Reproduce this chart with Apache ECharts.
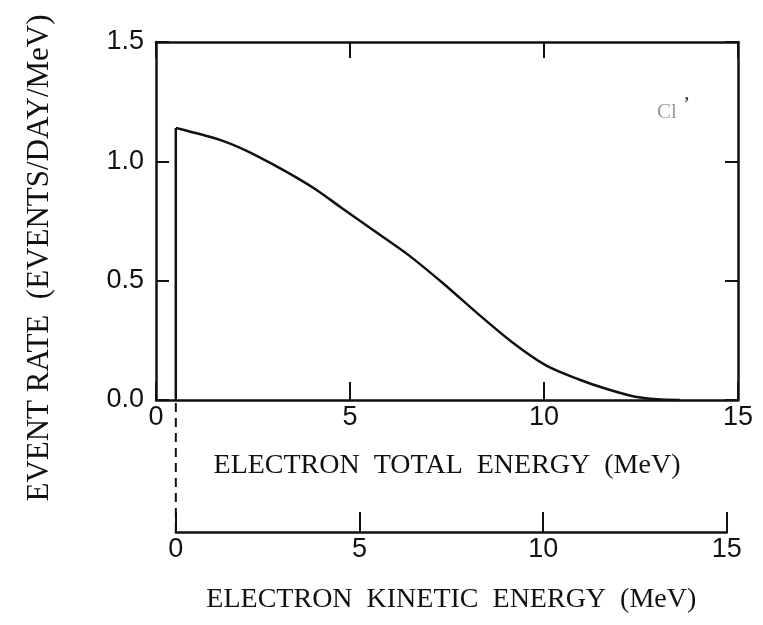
<!DOCTYPE html>
<html>
<head>
<meta charset="utf-8">
<script src="https://cdn.jsdelivr.net/npm/echarts@6/dist/echarts.min.js"></script>
<style>
  html, body { margin: 0; padding: 0; background: #ffffff; }
  #chart { width: 763px; height: 625px; }
</style>
</head>
<body>
<div id="chart"></div>
<script>
// Electron spectrum: event rate against electron total energy (MeV)
const energyTotal = [0.51, 1.65, 2.35, 3.06, 3.59, 4.12, 4.75, 5.63, 6.51, 7.39, 8.27, 9.18, 10.05, 10.92, 11.62, 12.32, 12.91, 13.5];
const eventRate   = [1.14, 1.09, 1.043, 0.983, 0.935, 0.882, 0.809, 0.708, 0.607, 0.49, 0.365, 0.242, 0.145, 0.085, 0.046, 0.015, 0.003, 0.0];

// Axis ticks
const energyTicks = [0, 5, 10, 15];
const rateTicks = [0.0, 0.5, 1.0, 1.5];

// Electron rest mass: offset between total and kinetic energy scales
const ELECTRON_MASS = 0.511;

// Layout
const PLOT = { left: 156, top: 42, width: 582, height: 358 };
const KINETIC_AXIS_Y = 532;
const KINETIC_AXIS_WIDTH = 551;
const plotBottom = PLOT.top + PLOT.height;
const eMin = energyTicks[0], eMax = energyTicks[energyTicks.length - 1];
const pxPerMeV = PLOT.width / (eMax - eMin);

const INK = '#111';
const tickFont = { fontFamily: '"Liberation Sans", Arial, sans-serif', fontSize: 27, color: INK };
const titleFont = { fontFamily: '"Liberation Serif", "Times New Roman", serif', fontSize: 28, color: INK };
const axisLine = { show: true, onZero: false, lineStyle: { color: INK, width: 2.5 } };

const chart = echarts.init(document.getElementById('chart'), null, { renderer: 'canvas' });

chart.setOption({
  animation: false,
  backgroundColor: '#ffffff',
  grid: [
    { left: PLOT.left, top: PLOT.top, width: PLOT.width, height: PLOT.height, outerBoundsMode: 'none', containLabel: false },
    { left: PLOT.left + ELECTRON_MASS * pxPerMeV, top: plotBottom, width: KINETIC_AXIS_WIDTH,
      height: KINETIC_AXIS_Y - plotBottom, outerBoundsMode: 'none', containLabel: false }
  ],
  xAxis: [
    {
      gridIndex: 0, type: 'value', position: 'bottom',
      min: eMin, max: eMax, interval: energyTicks[1] - energyTicks[0],
      axisLine: axisLine,
      axisTick: { show: true, inside: true, length: 18, lineStyle: { color: INK, width: 2 } },
      axisLabel: Object.assign({ margin: 4 }, tickFont),
      splitLine: { show: false },
      name: 'ELECTRON  TOTAL  ENERGY  (MeV)', nameLocation: 'middle', nameGap: 52,
      nameTextStyle: titleFont
    },
    {
      gridIndex: 0, type: 'value', position: 'top',
      min: eMin, max: eMax, interval: energyTicks[1] - energyTicks[0],
      axisLine: axisLine,
      axisTick: { show: true, inside: true, length: 16, lineStyle: { color: INK, width: 2 } },
      axisLabel: { show: false },
      splitLine: { show: false }
    },
    {
      gridIndex: 1, type: 'value', position: 'bottom',
      min: eMin, max: eMax, interval: energyTicks[1] - energyTicks[0],
      axisLine: axisLine,
      axisTick: { show: true, inside: true, length: 20, lineStyle: { color: INK, width: 2 } },
      axisLabel: Object.assign({ margin: 4 }, tickFont),
      splitLine: { show: false },
      name: 'ELECTRON  KINETIC  ENERGY  (MeV)', nameLocation: 'middle', nameGap: 54,
      nameTextStyle: titleFont
    }
  ],
  yAxis: [
    {
      gridIndex: 0, type: 'value', position: 'left',
      min: rateTicks[0], max: rateTicks[rateTicks.length - 1], interval: rateTicks[1] - rateTicks[0],
      axisLine: axisLine,
      axisTick: { show: true, inside: true, length: 13, lineStyle: { color: INK, width: 2 } },
      axisLabel: Object.assign({ margin: 12, formatter: v => v.toFixed(1) }, tickFont),
      splitLine: { show: false }
    },
    {
      gridIndex: 0, type: 'value', position: 'right',
      min: rateTicks[0], max: rateTicks[rateTicks.length - 1], interval: rateTicks[1] - rateTicks[0],
      axisLine: axisLine,
      axisTick: { show: true, inside: true, length: 13, lineStyle: { color: INK, width: 2 } },
      axisLabel: { show: false },
      splitLine: { show: false }
    },
    { gridIndex: 1, type: 'value', min: 0, max: 1, show: false }
  ],
  graphic: [
    {
      type: 'text', x: 40, y: 258, rotation: Math.PI / 2,
      style: {
        text: 'EVENT RATE  (EVENTS/DAY/MeV)',
        font: '31px "Liberation Serif", "Times New Roman", serif',
        fill: INK, align: 'center', verticalAlign: 'middle'
      }
    },
    {
      type: 'text', x: 657, y: 102,
      style: { text: 'Cl', font: '21px "Liberation Serif", serif', fill: '#9a9a9a' }
    },
    {
      type: 'text', x: 684, y: 96,
      style: { text: '\u02bc', font: 'bold 16px "Liberation Serif", serif', fill: '#333' }
    }
  ],
  series: [
    {
      // threshold edge of the spectrum
      type: 'line', xAxisIndex: 0, yAxisIndex: 0, symbol: 'none',
      data: [[energyTotal[0], 0], [energyTotal[0], eventRate[0]]],
      lineStyle: { color: INK, width: 2.5 }
    },
    {
      type: 'line', xAxisIndex: 0, yAxisIndex: 0, symbol: 'none', smooth: 0.3,
      data: energyTotal.map((e, i) => [e, eventRate[i]]),
      lineStyle: { color: INK, width: 2.5 }
    },
    {
      // dashed guide from the threshold down to kinetic energy zero
      type: 'line', xAxisIndex: 2, yAxisIndex: 2, symbol: 'none', clip: false,
      data: [[0, 0], [0, 1]],
      lineStyle: { color: INK, width: 2, type: [9, 6] }
    }
  ]
});
</script>
</body>
</html>
